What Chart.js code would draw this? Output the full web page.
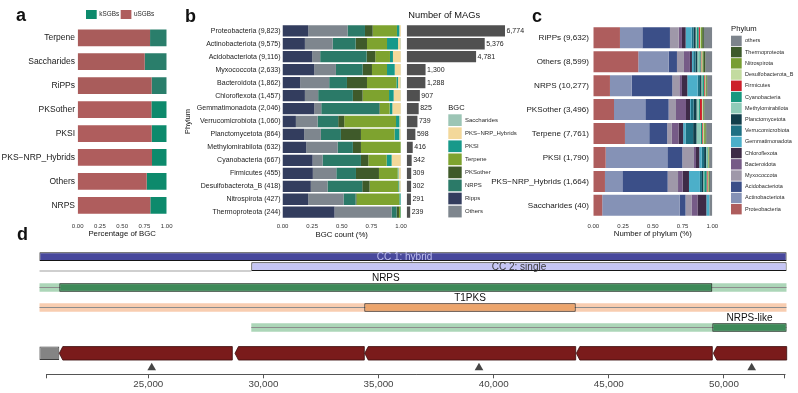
<!DOCTYPE html>
<html><head><meta charset="utf-8">
<script src="https://cdn.jsdelivr.net/npm/chart.js@4.4.1/dist/chart.umd.min.js"></script>
<style>
html,body{margin:0;padding:0;background:#fff;}
#wrap{position:relative;width:798px;height:393px;overflow:hidden;background:#fff;font-family:"Liberation Sans",Arial,sans-serif;}
canvas{position:absolute;}
.lbl{position:absolute;font-weight:bold;font-size:18px;line-height:18px;color:#111;}
.ttl{position:absolute;font-size:9.3px;line-height:9.3px;color:#111;white-space:nowrap;}
</style></head><body>
<div id="wrap">
<canvas id="cD" width="798" height="148" style="left:0;top:245px;width:798px;height:148px"></canvas>
<canvas id="cA" width="200" height="245" style="left:0;top:0;width:200px;height:245px"></canvas>
<canvas id="cB" width="370" height="245" style="left:150px;top:0;width:370px;height:245px"></canvas>
<canvas id="cM" width="140" height="245" style="left:400px;top:0;width:140px;height:245px"></canvas>
<canvas id="cC" width="328" height="245" style="left:470px;top:0;width:328px;height:245px"></canvas>
<div class="lbl" style="left:16px;top:6.3px">a</div>
<div class="lbl" style="left:185px;top:6.5px">b</div>
<div class="lbl" style="left:532px;top:6.5px">c</div>
<div class="lbl" style="left:17px;top:224.8px">d</div>
<div class="ttl" style="left:408.3px;top:11.4px">Number of MAGs</div>
</div>
<script>
// ---------------- DATA ----------------
// Panel a
const bgcClassesA = ['Terpene','Saccharides','RiPPs','PKSother','PKSI','PKS\u2212NRP_Hybrids','Others','NRPS'];
const uSGBShare = [0.813,0.753,0.831,0.828,0.831,0.835,0.775,0.816];
const kSGBShare = [0.187,0.247,0.169,0.172,0.169,0.165,0.225,0.184];

// Panel b
const phylumLabelsB = ['Proteobacteria (9,823)','Actinobacteriota (9,575)','Acidobacteriota (9,116)','Myxococcota (2,633)','Bacteroidota (1,862)','Chloroflexota (1,457)','Gemmatimonadota (2,046)','Verrucomicrobiota (1,060)','Planctomycetota (864)','Methylomirabilota (632)','Cyanobacteria (667)','Firmicutes (455)','Desulfobacterota_B (418)','Nitrospirota (427)','Thermoproteota (244)'];
const bRipps       = [0.217,0.189,0.251,0.268,0.149,0.189,0.268,0.113,0.183,0.200,0.254,0.256,0.239,0.217,0.439];
const bOthers      = [0.332,0.234,0.067,0.183,0.245,0.112,0.059,0.183,0.141,0.265,0.084,0.198,0.141,0.298,0.482];
const bNRPS        = [0.147,0.194,0.392,0.225,0.150,0.293,0.490,0.174,0.169,0.129,0.324,0.166,0.293,0.102,0.042];
const bPKSother    = [0.065,0.096,0.073,0.079,0.169,0.082,0.005,0.051,0.169,0.068,0.062,0.194,0.062,0.008,0.020];
const bTerpene     = [0.205,0.169,0.124,0.127,0.248,0.223,0.082,0.437,0.284,0.335,0.155,0.158,0.242,0.361,0.012];
const bPKSI        = [0.020,0.093,0.025,0.065,0.014,0.039,0.023,0.028,0.040,0.000,0.042,0.006,0.008,0.010,0.005];
const bHybrids     = [0.012,0.020,0.065,0.050,0.020,0.058,0.070,0.010,0.010,0.000,0.076,0.019,0.011,0.000,0.000];
const bSaccharides = [0.003,0.005,0.003,0.004,0.005,0.004,0.003,0.004,0.004,0.003,0.003,0.003,0.004,0.004,0.000];
const magCounts = [6774,5376,4781,1300,1288,907,825,739,598,416,342,309,302,291,239];
const bgcLegendOrder = ['Saccharides','PKS\u2212NRP_Hybrids','PKSI','Terpene','PKSother','NRPS','Ripps','Others'];

// Panel c
const bgcLabelsC = ['RiPPs (9,632)','Others (8,599)','NRPS (10,277)','PKSother (3,496)','Terpene (7,761)','PKSI (1,790)','PKS\u2212NRP_Hybrids (1,664)','Saccharides (40)'];
const cProteobacteria    = [0.224,0.378,0.140,0.174,0.266,0.104,0.098,0.075];
const cActinobacteriota  = [0.188,0.255,0.182,0.263,0.204,0.518,0.146,0.650];
const cAcidobacteriota   = [0.232,0.070,0.342,0.196,0.151,0.126,0.381,0.050];
const cMyxococcota       = [0.073,0.059,0.059,0.062,0.039,0.098,0.087,0.050];
const cBacteroidota      = [0.028,0.050,0.022,0.084,0.056,0.017,0.039,0.050];
const cChloroflexota     = [0.031,0.017,0.045,0.034,0.039,0.028,0.053,0.075];
const cGemmatimonadota   = [0.050,0.011,0.087,0.008,0.020,0.020,0.092,0.025];
const cVerrucomicrobiota = [0.017,0.020,0.020,0.022,0.064,0.020,0.017,0.000];
const cPlanctomycetota   = [0.017,0.014,0.011,0.025,0.028,0.017,0.011,0.000];
const cMethylomirabilota = [0.011,0.017,0.008,0.017,0.036,0.006,0.008,0.000];
const cCyanobacteria     = [0.014,0.011,0.014,0.011,0.011,0.006,0.020,0.000];
const cFirmicutes        = [0.011,0.006,0.006,0.017,0.006,0.000,0.008,0.000];
const cDesulfobacterotaB = [0.008,0.008,0.006,0.006,0.011,0.006,0.006,0.000];
const cNitrospirota      = [0.011,0.008,0.008,0.006,0.011,0.006,0.006,0.000];
const cThermoproteota    = [0.014,0.017,0.008,0.008,0.008,0.003,0.006,0.000];
const cOthers            = [0.070,0.059,0.042,0.067,0.048,0.028,0.022,0.025];
const phylumNames = ['Proteobacteria','Actinobacteriota','Acidobacteriota','Myxococcota','Bacteroidota','Chloroflexota','Gemmatimonadota','Verrucomicrobiota','Planctomycetota','Methylomirabilota','Cyanobacteria','Firmicutes','Desulfobacterota_B','Nitrospirota','Thermoproteota','others'];

// Panel d (bp coordinates)
const regionSpan   = [20266, 52726];
const cc1Span      = [20266, 52726];
const cc2Span      = [29473, 52726];
const nrpsCore     = [21135, 49495];
const t1pksCore    = [34381, 43562];
const nrpsLikeSpan = [29473, 52726];
const nrpsLikeCore = [49495, 52726];
const otherGene    = [20266, 21135];
const geneStarts   = [21135, 28765, 34400, 43590, 49540];
const geneEnds     = [28648, 34381, 43562, 49495, 52726];
const markerSites  = [25148, 39362, 51205];
const axisTicks    = [20588, 25000, 30000, 35000, 40000, 45000, 50000, 52652];

// ---------------- STYLE / HELPERS ----------------
const FAM = '"Liberation Sans", Arial, Helvetica, sans-serif';
Chart.defaults.font.family = FAM;
Chart.defaults.color = '#222';
const F = (size, weight) => ({family: FAM, size: size, weight: weight || 'normal', lineHeight: 1.2});
const fontStr = (size, weight) => (weight || 'normal') + ' ' + size + 'px ' + FAM;

const boxLegend = {
  id: 'boxLegend',
  afterDraw(chart, args, o) {
    if (!o || !o.items) return;
    const ctx = chart.ctx, dsets = chart.data.datasets;
    ctx.save();
    ctx.textBaseline = 'middle'; ctx.textAlign = 'left';
    if (o.title) {
      ctx.font = fontStr(o.titleSize); ctx.fillStyle = '#111';
      ctx.fillText(o.title, o.titleX, o.titleY);
    }
    ctx.font = fontStr(o.size);
    let x = o.x, y = o.y;
    o.items.forEach(name => {
      const d = dsets.find(ds => ds.label === name); if (!d) return;
      const bg = d.backgroundColor;
      ctx.fillStyle = Array.isArray(bg) ? bg[bg.length - 1] : bg;
      ctx.fillRect(x, y, o.boxW, o.boxH);
      ctx.fillStyle = '#2a2a2a';
      const tx = x + o.boxW + o.gap;
      ctx.fillText(name, tx, y + o.boxH / 2);
      if (o.horizontal) x = tx + ctx.measureText(name).width + o.itemGap; else y += o.step;
    });
    ctx.restore();
  }
};

const valueLabels = {
  id: 'valueLabels',
  afterDatasetsDraw(chart, args, o) {
    if (!o || !o.size) return;
    const ctx = chart.ctx, meta = chart.getDatasetMeta(0), data = chart.data.datasets[0].data;
    ctx.save(); ctx.font = fontStr(o.size); ctx.fillStyle = '#222';
    ctx.textBaseline = 'middle'; ctx.textAlign = 'left';
    meta.data.forEach((el, i) => ctx.fillText(data[i].toLocaleString('en-US'), el.x + o.offset, el.y));
    ctx.restore();
  }
};

const trackDecor = {
  id: 'trackDecor',
  afterDatasetsDraw(chart) {
    const ctx = chart.ctx;
    chart.data.datasets.forEach((ds, i) => {
      const meta = chart.getDatasetMeta(i);
      if (ds.arrow) {
        meta.data.forEach(el => {
          const p = el.getProps(['x', 'y', 'base', 'height'], true);
          const l = Math.min(p.x, p.base), r = Math.max(p.x, p.base), h = p.height / 2;
          const hd = Math.min(ds.arrow.head, (r - l) / 2);
          ctx.save();
          ctx.beginPath();
          ctx.moveTo(l, p.y); ctx.lineTo(l + hd, p.y - h); ctx.lineTo(r, p.y - h);
          ctx.lineTo(r, p.y + h); ctx.lineTo(l + hd, p.y + h); ctx.closePath();
          ctx.fillStyle = ds.arrow.fill; ctx.fill();
          ctx.lineWidth = 0.8; ctx.strokeStyle = ds.arrow.stroke; ctx.stroke();
          ctx.restore();
        });
      }
      if (ds.trackLabel) {
        const t = ds.trackLabel;
        meta.data.forEach(el => {
          const p = el.getProps(['x', 'y', 'base', 'height'], true);
          const cx = (p.x + p.base) / 2 + (t.dx || 0);
          const cy = t.pos === 'above' ? p.y - p.height / 2 - t.gap : p.y;
          ctx.save(); ctx.font = fontStr(10); ctx.fillStyle = t.color;
          ctx.textAlign = 'center'; ctx.textBaseline = 'middle';
          ctx.fillText(ds.label, cx, cy + 0.5); ctx.restore();
        });
      }
    });
  },
  afterDraw(chart) {
    const s = chart.scales.x, t = s.ticks; if (!t.length) return;
    const ctx = chart.ctx, y = Math.round(s.top) + 0.5;
    ctx.save(); ctx.strokeStyle = '#555'; ctx.lineWidth = 1;
    ctx.beginPath(); ctx.moveTo(s.getPixelForValue(t[0].value), y); ctx.lineTo(s.getPixelForValue(t[t.length - 1].value) + 0.5, y); ctx.stroke();
    ctx.restore();
  }
};

const base = {responsive: false, animation: false, devicePixelRatio: 1, events: []};
const noGrid = {display: false, drawTicks: false};

// ---------------- PANEL A ----------------
new Chart(document.getElementById('cA'), {
  type: 'bar',
  data: {labels: bgcClassesA, datasets: [
    {label: 'uSGBs', data: uSGBShare, backgroundColor: ['#a95c5b','#a95c5b','#a95c5b','#af5d5d','#af5d5d','#af5d5d','#af5d5d','#af5d5d']},
    {label: 'kSGBs', data: kSGBShare, backgroundColor: ['#2a7e6b','#2a7e6b','#2a7e6b','#0d8a6c','#0d8a6c','#0d8a6c','#0d8a6c','#0d8a6c']}
  ]},
  options: Object.assign({}, base, {
    indexAxis: 'y', barPercentage: 0.7, categoryPercentage: 1,
    layout: {padding: {left: 0, top: 25.8, right: 33.3, bottom: 0}},
    plugins: {legend: {display: false}, tooltip: {enabled: false},
      boxLegend: {items: ['kSGBs', 'uSGBs'], horizontal: true, x: 86, y: 10, boxW: 10.7, boxH: 9, gap: 2.6, itemGap: 1.5, size: 6.4}},
    scales: {
      x: {stacked: true, min: 0, max: 1, grid: noGrid, border: {display: false},
        ticks: {stepSize: 0.25, callback: v => v.toFixed(2), font: F(6), color: '#333', padding: 5.1, maxRotation: 0, autoSkip: false},
        title: {display: true, text: 'Percentage of BGC', font: F(7.8), color: '#111', padding: {top: 0, bottom: 6.8}},
        afterFit: s => { s.height = 27.7; }},
      y: {stacked: true, grid: noGrid, border: {display: false},
        ticks: {font: F(8.5), color: '#1a1a1a', padding: 2.7, autoSkip: false},
        afterFit: s => { s.width = 77.7; }}
    }
  }),
  plugins: [boxLegend]
});

// ---------------- PANEL B ----------------
const bSeries = [
  ['Ripps', bRipps, '#333d5e'], ['Others', bOthers, '#7e868e'], ['NRPS', bNRPS, '#2b7a68'],
  ['PKSother', bPKSother, '#3f5a2a'], ['Terpene', bTerpene, '#7ea32f'], ['PKSI', bPKSI, '#17998a'],
  ['PKS\u2212NRP_Hybrids', bHybrids, '#f3d89a'], ['Saccharides', bSaccharides, '#9cc5b5']
];
new Chart(document.getElementById('cB'), {
  type: 'bar',
  data: {labels: phylumLabelsB, datasets: bSeries.map(s => ({label: s[0], data: s[1], backgroundColor: s[2]}))},
  options: Object.assign({}, base, {
    indexAxis: 'y', barPercentage: 0.87, categoryPercentage: 1,
    layout: {padding: {left: 0, top: 24.3, right: 119, bottom: 0}},
    plugins: {legend: {display: false}, tooltip: {enabled: false},
      boxLegend: {items: bgcLegendOrder, title: 'BGC', titleSize: 7.5, titleX: 298.3, titleY: 108.3,
        x: 298.3, y: 114.3, boxW: 13.4, boxH: 11.7, step: 13.06, gap: 3.3, size: 6}},
    scales: {
      x: {stacked: true, min: 0, max: 1, grid: noGrid, border: {display: false},
        ticks: {stepSize: 0.25, callback: v => v.toFixed(2), font: F(6), color: '#333', padding: 3.7, maxRotation: 0, autoSkip: false},
        title: {display: true, text: 'BGC count (%)', font: F(7.8), color: '#111', padding: {top: 0, bottom: 5.3}},
        afterFit: s => { s.height = 26.3; }},
      y: {stacked: true, grid: noGrid, border: {display: false},
        ticks: {font: F(7), color: '#1a1a1a', padding: 2, autoSkip: false},
        title: {display: true, text: 'Phylum', font: F(7.5), color: '#111', padding: {top: 33, bottom: 0}},
        afterFit: s => { s.width = 132.5; }}
    }
  }),
  plugins: [boxLegend]
});

// ---------------- MAG COUNTS ----------------
new Chart(document.getElementById('cM'), {
  type: 'bar',
  data: {labels: phylumLabelsB, datasets: [{label: 'Number of MAGs', data: magCounts, backgroundColor: '#505050'}]},
  options: Object.assign({}, base, {
    indexAxis: 'y', barPercentage: 0.87, categoryPercentage: 1,
    layout: {padding: {left: 6.7, top: 24.3, right: 17.2, bottom: 26.3}},
    plugins: {legend: {display: false}, tooltip: {enabled: false}, valueLabels: {size: 7, offset: 1.5}},
    scales: {x: {display: false, min: 0, max: 8000}, y: {display: false}}
  }),
  plugins: [valueLabels]
});

// ---------------- PANEL C ----------------
const cSeries = [cProteobacteria, cActinobacteriota, cAcidobacteriota, cMyxococcota, cBacteroidota, cChloroflexota, cGemmatimonadota, cVerrucomicrobiota, cPlanctomycetota, cMethylomirabilota, cCyanobacteria, cFirmicutes, cDesulfobacterotaB, cNitrospirota, cThermoproteota, cOthers];
const phylumColors = ['#ae5d5d','#8592b6','#3b4f88','#9f98a9','#765b87','#3e2b47','#4cafc9','#1e7083','#123e4b','#8fcbb8','#17987f','#cc1f2a','#c3dba0','#789e33','#3d5a2b','#7d848c'];
new Chart(document.getElementById('cC'), {
  type: 'bar',
  data: {labels: bgcLabelsC, datasets: cSeries.map((d, i) => ({label: phylumNames[i], data: d, backgroundColor: phylumColors[i]}))},
  options: Object.assign({}, base, {
    indexAxis: 'y', barPercentage: 0.876, categoryPercentage: 1,
    layout: {padding: {left: 0, top: 25.8, right: 85.7, bottom: 0}},
    plugins: {legend: {display: false}, tooltip: {enabled: false},
      boxLegend: {items: phylumNames.slice().reverse(), title: 'Phylum', titleSize: 7.7, titleX: 261, titleY: 29.3,
        x: 261, y: 35.7, boxW: 10.7, boxH: 10.4, step: 11.22, gap: 3.3, size: 5.5}},
    scales: {
      x: {stacked: true, min: 0, max: 1, grid: noGrid, border: {display: false},
        ticks: {stepSize: 0.25, callback: v => v.toFixed(2), font: F(6), color: '#333', padding: 5.1, maxRotation: 0, autoSkip: false},
        title: {display: true, text: 'Number of phylum (%)', font: F(7.8), color: '#111', padding: {top: 0, bottom: 6}},
        afterFit: s => { s.height = 27.7; }},
      y: {stacked: true, grid: noGrid, border: {display: false},
        ticks: {font: F(8.1), color: '#1a1a1a', padding: 4.3, autoSkip: false},
        afterFit: s => { s.width = 123.3; }}
    }
  }),
  plugins: [boxLegend]
});

// ---------------- PANEL D ----------------
const ROW = {cc1: 0.665, cc2: 1.665, nrps: 3.75, t1pks: 5.75, nrpsLike: 7.75, genes: 10.33, marks: 11.77};
const fb = (extra) => Object.assign({grouped: false, borderSkipped: false, borderWidth: 0, inflateAmount: 0}, extra);
const edge = '#151515';
new Chart(document.getElementById('cD'), {
  type: 'bar',
  data: {datasets: [
    {type: 'scatter', label: 'markers', data: markerSites.map(v => ({x: v, y: ROW.marks})), pointStyle: 'triangle', pointRadius: 5, backgroundColor: '#464646', borderColor: '#464646', borderWidth: 0, order: 0},
    fb({label: 'CC 1: hybrid', data: [{x: cc1Span, y: ROW.cc1}], backgroundColor: '#48489c', borderColor: edge, borderWidth: 1, barThickness: 8.7, order: 1, trackLabel: {pos: 'inside', color: '#bdbdec', dx: -8.5}}),
    fb({label: 'CC 2: single', data: [{x: cc2Span, y: ROW.cc2}], backgroundColor: '#c6c6f5', borderColor: edge, borderWidth: 1, barThickness: 8.7, order: 1, trackLabel: {pos: 'inside', color: '#3a3a3a'}}),
    fb({label: 'cc2 row', data: [{x: [regionSpan[0], cc2Span[0]], y: ROW.cc2 + 0.43}], backgroundColor: '#a0a0a0', barThickness: 1, order: 2}),
    fb({label: 'NRPS', data: [{x: nrpsCore, y: ROW.nrps}], backgroundColor: '#3e8a59', borderColor: edge, borderWidth: 1, barThickness: 8.4, order: 1, trackLabel: {pos: 'above', color: '#111', gap: 5.5}}),
    fb({label: 'NRPS line', data: [{x: regionSpan, y: ROW.nrps}], backgroundColor: '#8c8c8c', barThickness: 1, order: 2}),
    fb({label: 'NRPS band', data: [{x: regionSpan, y: ROW.nrps}], backgroundColor: '#acd6b8', barThickness: 8.4, order: 3}),
    fb({label: 'T1PKS', data: [{x: t1pksCore, y: ROW.t1pks}], backgroundColor: '#eca56c', borderColor: edge, borderWidth: 1, barThickness: 8.4, order: 1, trackLabel: {pos: 'above', color: '#111', gap: 5.5}}),
    fb({label: 'T1PKS line', data: [{x: regionSpan, y: ROW.t1pks}], backgroundColor: '#8c8c8c', barThickness: 1, order: 2}),
    fb({label: 'T1PKS band', data: [{x: regionSpan, y: ROW.t1pks}], backgroundColor: '#f8cdb0', barThickness: 8.4, order: 3}),
    fb({label: 'NRPS-like', data: [{x: nrpsLikeCore, y: ROW.nrpsLike}], backgroundColor: '#3e8a59', borderColor: edge, borderWidth: 1, barThickness: 8.4, order: 1, trackLabel: {pos: 'above', color: '#111', gap: 5.5}}),
    fb({label: 'NRPS-like line', data: [{x: nrpsLikeSpan, y: ROW.nrpsLike}], backgroundColor: '#8c8c8c', barThickness: 1, order: 2}),
    fb({label: 'NRPS-like band', data: [{x: nrpsLikeSpan, y: ROW.nrpsLike}], backgroundColor: '#acd6b8', barThickness: 8.4, order: 3}),
    fb({label: 'other gene', data: [{x: otherGene, y: ROW.genes}], backgroundColor: '#848484', borderColor: '#3c3c3c', borderWidth: 1, barThickness: 13.5, order: 1}),
    fb({label: 'core genes', data: geneStarts.map((s, i) => ({x: [s, geneEnds[i]], y: ROW.genes})), backgroundColor: 'rgba(0,0,0,0)', barThickness: 13.5, order: 1, arrow: {fill: '#7a1b1b', stroke: '#3a0c0c', head: 3.5}})
  ]},
  options: Object.assign({}, base, {
    indexAxis: 'y',
    layout: {padding: {left: 39.3, top: 5, right: 11.3, bottom: 0}},
    plugins: {legend: {display: false}, tooltip: {enabled: false}},
    scales: {
      x: {type: 'linear', position: 'bottom', min: regionSpan[0], max: regionSpan[1],
        afterBuildTicks: s => { s.ticks = axisTicks.map(v => ({value: v})); },
        grid: {display: true, drawOnChartArea: false, drawTicks: true, tickLength: 4.3, color: '#555', lineWidth: 1},
        border: {display: false},
        ticks: {font: F(9.8), color: '#444', padding: 0.2, autoSkip: false, maxRotation: 0,
          callback: (v, i, t) => (i === 0 || i === t.length - 1) ? '' : Number(v).toLocaleString('en-US')},
        afterFit: s => { s.height = 19; }},
      y: {type: 'linear', display: false, min: 0, max: 12.4, reverse: true, offset: false, grid: {offset: false}}
    }
  }),
  plugins: [trackDecor]
});
</script>
</body></html>
